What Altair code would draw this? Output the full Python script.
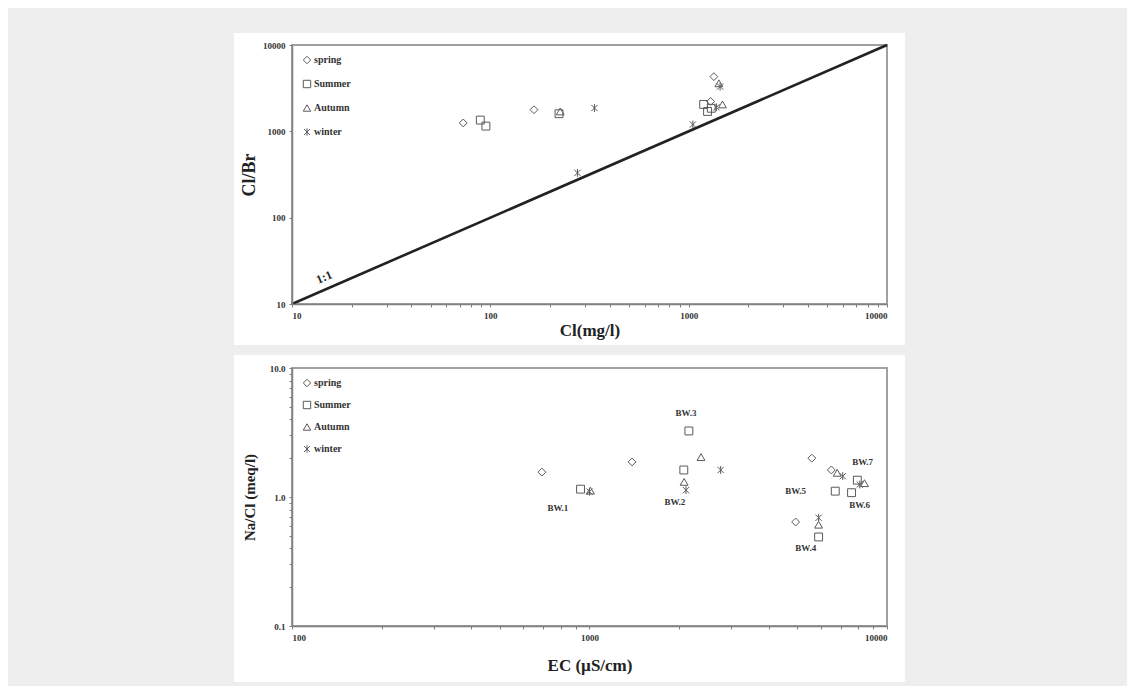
import altair as alt
import pandas as pd

# ---------------- data ----------------
seasons = ["spring", "Summer", "Autumn", "winter"]

# Top panel: Cl (mg/l) vs Cl/Br
top_season = ["spring", "Summer", "Summer", "spring", "Summer", "Autumn", "winter", "winter",
              "spring", "Autumn", "winter", "Summer", "Summer", "spring", "Autumn", "winter", "winter", "Summer"]
top_cl = [73, 89, 95, 166, 222, 225, 335, 275,
          1340, 1420, 1440, 1190, 1245, 1290, 1480, 1380, 1050, 1300]
top_clbr = [1250, 1350, 1150, 1780, 1600, 1700, 1860, 330,
            4300, 3600, 3300, 2050, 1700, 2220, 2050, 1900, 1200, 1850]

line_x = [10, 10000]
line_y = [10, 10000]

# Bottom panel: EC (uS/cm) vs Na/Cl (meq/l)
bot_season = ["spring", "Summer", "Autumn", "winter",
              "spring", "Summer", "Autumn", "Summer", "Autumn", "winter", "winter",
              "spring", "spring", "Autumn", "winter", "Summer", "Autumn", "winter",
              "Summer", "Summer",
              "spring", "winter", "Autumn", "Summer"]
bot_ec = [692, 933, 1007, 1000,
          1390, 2158, 2370, 2075, 2080, 2110, 2760,
          5590, 6500, 6800, 7100, 7950, 8400, 8100,
          6700, 7600,
          4930, 5890, 5890, 5890]
bot_nacl = [1.56, 1.15, 1.12, 1.10,
            1.87, 3.25, 2.04, 1.62, 1.31, 1.13, 1.62,
            2.00, 1.62, 1.54, 1.45, 1.35, 1.28, 1.25,
            1.11, 1.08,
            0.64, 0.69, 0.61, 0.49]

bw_names = ["BW.1", "BW.2", "BW.3", "BW.4", "BW.5", "BW.6", "BW.7"]
bw_ec = [783, 1936, 2110, 5330, 4930, 8090, 8280]
bw_nacl = [0.82, 0.91, 4.48, 0.40, 1.11, 0.87, 1.87]

top_x_ticks = [m * d for d in [10, 100, 1000] for m in range(1, 10)] + [10000]
top_y_ticks = [10, 100, 1000, 10000]
bot_x_ticks = [m * d for d in [100, 1000] for m in range(1, 10)] + [10000]
bot_y_ticks = [round(m * d, 3) for d in [0.1, 1] for m in range(1, 10)] + [10]

# ---------------- styling ----------------
SERIF = "Liberation Serif"
STROKE = "#5a5a5a"
asterisk = "M-0.8,-0.8L0.8,0.8M-0.8,0.8L0.8,-0.8M0,-1L0,1"
shape_scale = alt.Scale(domain=seasons, range=["diamond", "square", "triangle-up", asterisk])

decade_expr = ("abs(log(datum.value)/LN10 - round(log(datum.value)/LN10)) < 1e-6 ? "
               "format(datum.value, '{fmt}') : ''")

W, H1, H2 = 595, 259, 258


def white_panel(x0, x1, y0, y1):
    return alt.Chart(pd.DataFrame({"a": [0]})).mark_rect(
        fill="white", stroke=None
    ).encode(x=alt.value(x0), x2=alt.value(x1), y=alt.value(y0), y2=alt.value(y1))


def frame(w, h):
    return alt.Chart(pd.DataFrame({"a": [0]})).mark_rect(
        fill=None, stroke="#a0a0a0", strokeWidth=2
    ).encode(x=alt.value(0), x2=alt.value(w), y=alt.value(0), y2=alt.value(h))


def make_axis(title, values, expr_fmt=None, fmt=None, title_size=12, title_pad=6):
    kw = dict(title=title, values=values, zindex=2, titleFontSize=title_size,
              titlePadding=title_pad)
    if expr_fmt:
        kw["labelExpr"] = decade_expr.format(fmt=expr_fmt)
    if fmt:
        kw["format"] = fmt
    return alt.Axis(**kw)


def legend(row_pad):
    return alt.Legend(
        title=None, orient="top-left", offset=10, symbolSize=55, symbolStrokeWidth=1,
        symbolStrokeColor=STROKE, symbolFillColor="transparent", labelFont=SERIF,
        labelFontWeight="bold", labelFontSize=10, labelColor="#333", rowPadding=row_pad,
        symbolOffset=0, labelOffset=2,
    )


# ---------------- top panel ----------------
top_df = pd.DataFrame({"season": top_season, "cl": top_cl, "clbr": top_clbr})
line_df = pd.DataFrame({"x": line_x, "y": line_y})

tscale = alt.Scale(type="log", domain=[10, 10000], nice=False)

tx = alt.X("cl:Q", scale=tscale,
           axis=make_axis("Cl(mg/l)", top_x_ticks, expr_fmt="d", title_size=17, title_pad=2))
ty = alt.Y("clbr:Q", scale=tscale,
           axis=make_axis("Cl/Br", top_y_ticks, fmt="d", title_size=18, title_pad=4))

top_points = alt.Chart(top_df).mark_point(
    filled=False, size=62, stroke=STROKE, strokeWidth=1, opacity=1
).encode(x=tx, y=ty, shape=alt.Shape("season:N", scale=shape_scale, legend=legend(12)))

top_line = alt.Chart(line_df).mark_line(color="#222", strokeWidth=2.6).encode(
    x=alt.X("x:Q", scale=tscale), y=alt.Y("y:Q", scale=tscale),
)

ratio_df = pd.DataFrame({"x": [14.5], "y": [20.5], "t": ["1:1"]})
top_ratio = alt.Chart(ratio_df).mark_text(
    font=SERIF, fontWeight="bold", fontSize=12, angle=337, color="#222"
).encode(x="x:Q", y="y:Q", text="t:N")

top = alt.layer(
    white_panel(-58, 613, -12, 300), frame(W, H1), top_points, top_line, top_ratio
).properties(width=W, height=H1)

# ---------------- bottom panel ----------------
bot_df = pd.DataFrame({"season": bot_season, "ec": bot_ec, "nacl": bot_nacl})
lab_df = pd.DataFrame({"name": bw_names, "ec": bw_ec, "nacl": bw_nacl})

bx = alt.X("ec:Q", scale=alt.Scale(type="log", domain=[100, 10000], nice=False),
           axis=make_axis("EC (µS/cm)", bot_x_ticks, expr_fmt="d", title_size=17, title_pad=15))
by = alt.Y("nacl:Q", scale=alt.Scale(type="log", domain=[0.1, 10], nice=False),
           axis=make_axis("Na/Cl (meq/l)", bot_y_ticks, expr_fmt=".1f", title_size=15, title_pad=12))

bot_points = alt.Chart(bot_df).mark_point(
    filled=False, size=62, stroke=STROKE, strokeWidth=1, opacity=1
).encode(x=bx, y=by, shape=alt.Shape("season:N", scale=shape_scale, legend=legend(10)))

bot_labels = alt.Chart(lab_df).mark_text(
    font=SERIF, fontWeight="bold", fontSize=9, color="#333"
).encode(x="ec:Q", y="nacl:Q", text="name:N")

bottom = alt.layer(
    white_panel(-58, 613, -13, 314), frame(W, H2), bot_points, bot_labels
).properties(width=W, height=H2)

chart = alt.vconcat(top, bottom, spacing=10).resolve_scale(
    shape="independent"
).resolve_legend(shape="independent").properties(
    background="#eeeeee",
    padding={"left": 226, "top": 25, "right": 222, "bottom": 4},
).configure_view(stroke=None).configure_axis(
    grid=False, domainColor="#808080", domainWidth=1.5, tickColor="#808080",
    tickSize=3, labelFont=SERIF, labelFontWeight="bold", labelFontSize=9,
    labelColor="#333", labelPadding=4, titleFont=SERIF, titleFontWeight="bold",
    titleColor="#222",
)

chart.save("out.html", embed_options={"renderer": "svg", "actions": False})
